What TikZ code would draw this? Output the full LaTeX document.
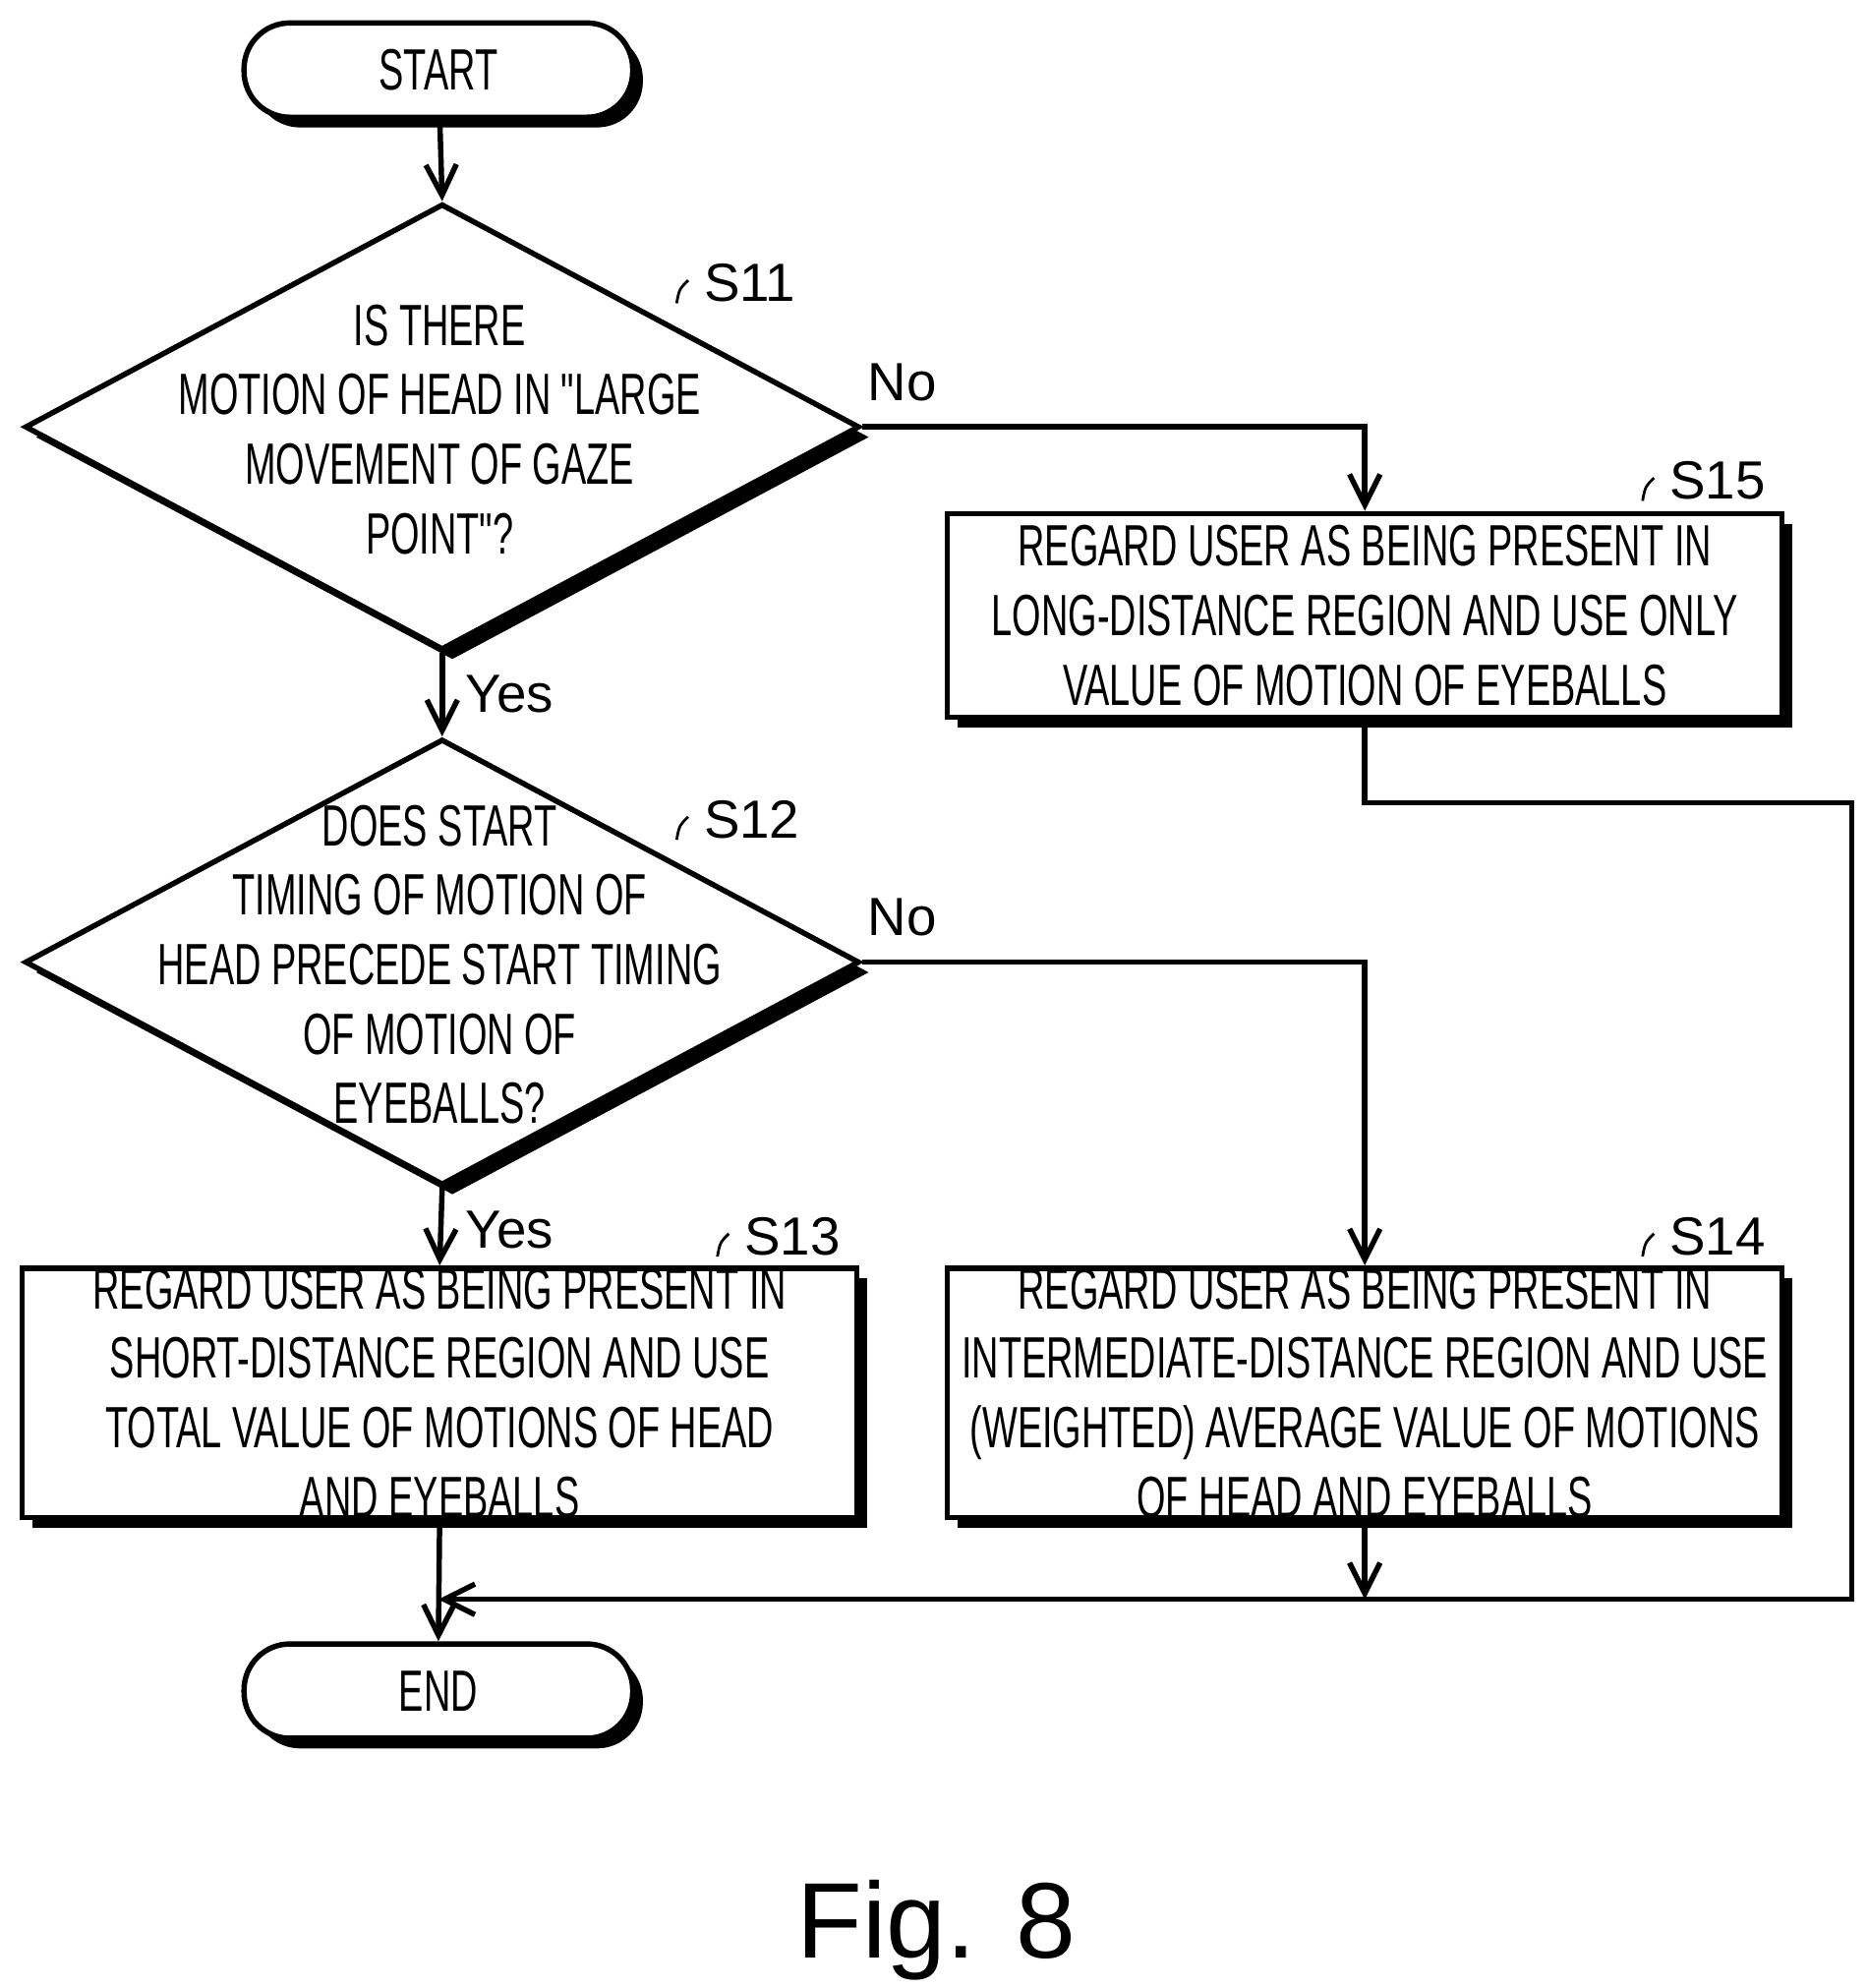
\documentclass[tikz,border=0pt]{standalone}
\usepackage{fontspec}
\setmainfont{Liberation Sans}
\newfontfamily\condfont[FakeStretch=0.64]{Liberation Sans}
\usetikzlibrary{shapes.geometric, arrows.meta, positioning, shadows, calc}

\tikzset{
  boxshadow/.style={drop shadow={shadow xshift=0.8mm, shadow yshift=-0.8mm, fill=black, opacity=1}},
  term/.style={draw, line width=1.2pt, rounded corners=3.6mm, fill=white, boxshadow, minimum width=30.5mm, minimum height=7.4mm, font=\condfont\fontsize{13}{15}\selectfont},
  proc/.style={draw, line width=1.2pt, fill=white, boxshadow, minimum width=65.5mm, font=\condfont\fontsize{13}{15.5}\selectfont, align=center, inner sep=0pt},
  decide/.style={draw, line width=1.2pt, diamond, fill=white, boxshadow, minimum width=65.5mm, minimum height=35mm, aspect=1.87, inner sep=0pt},
  dtext/.style={font=\condfont\fontsize{13}{15.5}\selectfont, align=center},
  tag/.style={font=\fontsize{12}{14}\selectfont},
  flow/.style={line width=1.2pt, -{Straight Barb[length=2.4mm, width=2.4mm]}},
  plain/.style={line width=1.2pt},
}

\newcommand{\steptag}[3]{% position, name, text
  \node[tag, anchor=west] (#2) at #1 {#3};
  \draw[line width=0.6pt] ($(#2.west)+(-0.9mm,-1.6mm)$) .. controls +(0.2mm,1.2mm) and +(-0.6mm,-0.6mm) .. ($(#2.west)+(0mm,0.2mm)$);
}

\begin{document}
\begin{tikzpicture}[x=0.1mm, y=-0.1mm]
\useasboundingbox (0,0) rectangle (1465,1560);

% terminals
\node[term] (start) at (344,55) {START};
\node[term] (end) at (344,1327) {END};

% decisions
\node[decide] (d1) at (347,335) {};
\node[dtext] (d1txt) at (345,337) {IS THERE\\MOTION OF HEAD IN "LARGE\\MOVEMENT OF GAZE\\POINT"?};
\node[decide] (d2) at (347,755) {};
\node[dtext] (d2txt) at (345,757) {DOES START\\TIMING OF MOTION OF\\HEAD PRECEDE START TIMING\\OF MOTION OF\\EYEBALLS?};

% process steps
\node[proc, minimum height=16mm] (s15) at (1071,483) {REGARD USER AS BEING PRESENT IN\\LONG-DISTANCE REGION AND USE ONLY\\VALUE OF MOTION OF EYEBALLS};
\node[proc, minimum height=19mm] (s13) at (345,1093) {REGARD USER AS BEING PRESENT IN\\SHORT-DISTANCE REGION AND USE\\TOTAL VALUE OF MOTIONS OF HEAD\\AND EYEBALLS};
\node[proc, minimum height=19mm] (s14) at (1071,1093) {REGARD USER AS BEING PRESENT IN\\INTERMEDIATE-DISTANCE REGION AND USE\\(WEIGHTED) AVERAGE VALUE OF MOTIONS\\OF HEAD AND EYEBALLS};

% step tags
\steptag{(540,222)}{t11}{S11}
\steptag{(540,643)}{t12}{S12}
\steptag{(572,970)}{t13}{S13}
\steptag{(1298,377)}{t15}{S15}
\steptag{(1298,970)}{t14}{S14}

% branch labels
\node[tag] (no1) at (708,300) {No};
\node[tag] (yes1) at (400,545) {Yes};
\node[tag] (no2) at (708,720) {No};
\node[tag] (yes2) at (400,965) {Yes};

% connectors
\coordinate (join) at (344,1255);
\coordinate (loop) at (1453,630);
\draw[flow] (start) -- (d1.north);
\draw[flow] (d1.south) -- (d2.north);
\draw[flow] (d1.east) -| (s15.north);
\draw[flow] (d2.east) -| (s14.north);
\draw[flow] (d2.south) -- (s13.north);
\draw[plain] (s15.south) |- (loop) |- (join -| s14.south);
\draw[flow] (join -| s14.south) -- (join);
\draw[flow] (s14.south) -- (join -| s14.south);
\draw[flow] (s13.south) -- (end.north);

% caption
\node[font=\fontsize{24}{28}\selectfont] (fig) at (735,1515) {Fig. 8};
\end{tikzpicture}
\end{document}
